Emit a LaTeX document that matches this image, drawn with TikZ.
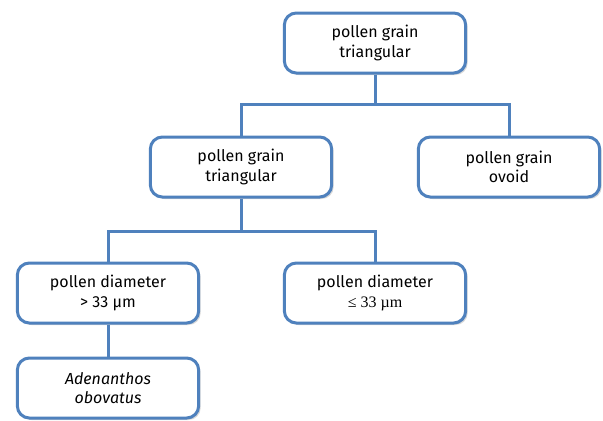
\documentclass[tikz,border=0pt]{standalone}
\usepackage{fontspec}
\setmainfont{Fira Sans}
\newfontfamily\serifnum{Liberation Serif}
\usetikzlibrary{shadows,backgrounds}

\definecolor{keyblue}{RGB}{79,129,189}
\tikzset{every picture/.style={line width=0.75pt}}
\tikzset{keybox/.style={draw=keyblue, line width=2.25pt, fill=white, rounded corners=9pt,
    minimum width=136pt, minimum height=45pt, align=center, font=\fontsize{12}{14.5}\selectfont,
    drop shadow={shadow xshift=1.5pt, shadow yshift=-1.5pt, opacity=0.25, fill=black!60}},
  keyline/.style={draw=keyblue, line width=2.25pt}}

\begin{document}
\begin{tikzpicture}[x=0.75pt,y=0.75pt,yscale=-1,xscale=1]
\path (0,0) rectangle (603,421); %set diagram size

% Text Node
\node [keybox] (top) at (375,43) {pollen grain\\triangular};
% Text Node
\node [keybox] (midL) at (241,167) {pollen grain\\triangular};
% Text Node
\node [keybox] (midR) at (509,167) {pollen grain\\ovoid};
% Text Node
\node [keybox] (botL) at (108,293) {pollen diameter\\> 33 µm};
% Text Node
\node [keybox] (botR) at (375,293) {pollen diameter\\{\serifnum ≤ 33 µm}};
% Text Node
\node [keybox] (leaf) at (108,388) {\itshape Adenanthos\\\itshape obovatus};

% Junction points
\coordinate (j1) at (375,104);
\coordinate (j2) at (241,231);

%Connectors
\begin{scope}[on background layer]
\draw [keyline] (top.south) -- (j1);
\draw [keyline] (midL.north) |- (j1) -| (midR.north);
\draw [keyline] (midL.south) -- (j2);
\draw [keyline] (botL.north) |- (j2) -| (botR.north);
\draw [keyline] (botL.south) -- (leaf.north);
\end{scope}

\end{tikzpicture}
\end{document}
